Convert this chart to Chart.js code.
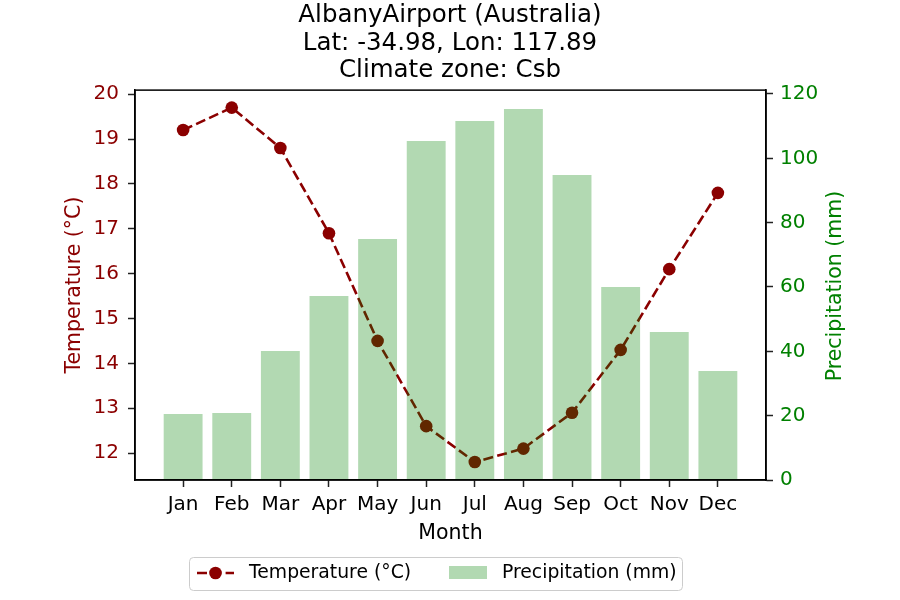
<!DOCTYPE html>
<html>
<head>
<meta charset="utf-8">
<script src="https://cdn.jsdelivr.net/npm/chart.js@4/dist/chart.umd.min.js"></script>
<style>
html,body{margin:0;padding:0;background:#fff;}
#wrap{width:900px;height:600px;}
</style>
</head>
<body>
<div id="wrap"><canvas id="c" width="900" height="600"></canvas></div>
<script>
const months = ['Jan','Feb','Mar','Apr','May','Jun','Jul','Aug','Sep','Oct','Nov','Dec'];
const temperature = [19.2, 19.7, 18.8, 16.9, 14.5, 12.6, 11.8, 12.1, 12.9, 14.3, 16.1, 17.8];
const precipitation = [20.5, 20.8, 40.1, 57.2, 74.9, 105.4, 111.6, 115.3, 94.8, 60.0, 46.0, 33.9];
const tempTicks = [12, 13, 14, 15, 16, 17, 18, 19, 20];
const precTicks = [0, 20, 40, 60, 80, 100, 120];
const titleLines = ['AlbanyAirport (Australia)', 'Lat: -34.98, Lon: 117.89', 'Climate zone: Csb'];

const FONT = "'DejaVu Sans', sans-serif";
const TEMP_COLOR = '#8b0000';
const PREC_COLOR = 'green';
const BAR_COLOR = 'rgba(0,128,0,0.3)';
const TICK_SIZE = 20;
const LABEL_SIZE = 20.5;

const framePlugin = {
  id: 'frame',
  afterDatasetsDraw(chart) {
    const {ctx, chartArea: a} = chart;
    ctx.save();
    ctx.strokeStyle = '#000';
    ctx.lineWidth = 1.5;
    ctx.strokeRect(a.left, a.top, a.right - a.left, a.bottom - a.top);
    ctx.restore();
  }
};

const rightTitlePlugin = {
  id: 'rightTitle',
  afterDraw(chart) {
    const {ctx, chartArea: a} = chart;
    ctx.save();
    ctx.translate(836, (a.top + a.bottom) / 2 + 1);
    ctx.rotate(-Math.PI / 2);
    ctx.fillStyle = PREC_COLOR;
    ctx.font = LABEL_SIZE + 'px ' + FONT;
    ctx.textAlign = 'center';
    ctx.textBaseline = 'middle';
    ctx.fillText('Precipitation (mm)', 0, 0);
    ctx.restore();
  }
};

const legendPlugin = {
  id: 'customLegend',
  afterDraw(chart) {
    const ctx = chart.ctx;
    ctx.save();
    const bx = 189.5, by = 557.5, bw = 493, bh = 33, r = 4;
    ctx.beginPath();
    ctx.moveTo(bx + r, by);
    ctx.arcTo(bx + bw, by, bx + bw, by + bh, r);
    ctx.arcTo(bx + bw, by + bh, bx, by + bh, r);
    ctx.arcTo(bx, by + bh, bx, by, r);
    ctx.arcTo(bx, by, bx + bw, by, r);
    ctx.closePath();
    ctx.fillStyle = 'rgba(255,255,255,0.8)';
    ctx.fill();
    ctx.strokeStyle = '#cccccc';
    ctx.lineWidth = 1;
    ctx.stroke();
    const cy = 573;
    ctx.strokeStyle = TEMP_COLOR;
    ctx.lineWidth = 2.6;
    ctx.setLineDash([10, 4.3]);
    ctx.beginPath();
    ctx.moveTo(197, cy);
    ctx.lineTo(234, cy);
    ctx.stroke();
    ctx.setLineDash([]);
    ctx.fillStyle = TEMP_COLOR;
    ctx.beginPath();
    ctx.arc(215.5, cy, 6.3, 0, Math.PI * 2);
    ctx.fill();
    ctx.fillStyle = BAR_COLOR;
    ctx.fillRect(449, 566, 38, 13);
    ctx.fillStyle = '#000';
    ctx.font = '18.8px ' + FONT;
    ctx.textBaseline = 'middle';
    ctx.textAlign = 'left';
    ctx.fillText('Temperature (°C)', 249, cy);
    ctx.fillText('Precipitation (mm)', 502, cy);
    ctx.restore();
  }
};

const ctx = document.getElementById('c').getContext('2d');
new Chart(ctx, {
  type: 'bar',
  data: {
    datasets: [
      {
        type: 'line',
        label: 'Temperature (°C)',
        data: temperature.map((v, i) => ({x: i, y: v})),
        yAxisID: 'y',
        xAxisID: 'x',
        borderColor: TEMP_COLOR,
        backgroundColor: TEMP_COLOR,
        borderWidth: 2.6,
        borderDash: [10, 4.3],
        pointRadius: 6.3,
        pointBorderWidth: 0,
        pointBackgroundColor: TEMP_COLOR,
        tension: 0,
        fill: false,
        order: 2
      },
      {
        type: 'bar',
        label: 'Precipitation (mm)',
        data: precipitation.map((v, i) => ({x: i, y: v})),
        yAxisID: 'y1',
        xAxisID: 'x',
        backgroundColor: BAR_COLOR,
        borderWidth: 0,
        barPercentage: 0.8,
        categoryPercentage: 1.0,
        order: 1
      }
    ]
  },
  options: {
    responsive: false,
    animation: false,
    events: [],
    layout: {padding: {left: 0, right: 0, top: 0, bottom: 50}},
    plugins: {
      legend: {display: false},
      tooltip: {enabled: false},
      title: {
        display: true,
        text: titleLines,
        color: '#000',
        font: {family: FONT, size: 24.5, weight: 'normal', lineHeight: 1.12},
        padding: {top: 2, bottom: 5.8}
      }
    },
    scales: {
      x: {
        type: 'linear',
        position: 'bottom',
        offset: false,
        min: -0.99,
        max: 11.99,
        afterBuildTicks: (s) => { s.ticks = months.map((m, i) => ({value: i})); },
        afterFit: (s) => { s.height = 70; },
        ticks: {
          color: '#000',
          font: {family: FONT, size: TICK_SIZE},
          padding: 6,
          maxRotation: 0,
          minRotation: 0,
          autoSkip: false,
          callback: (v) => months[v]
        },
        grid: {offset: false, drawOnChartArea: false, drawTicks: true, tickLength: 7, tickColor: '#222', tickWidth: 1.5},
        border: {display: true, color: '#000', width: 1.5},
        title: {
          display: true,
          text: 'Month',
          color: '#000',
          font: {family: FONT, size: LABEL_SIZE, lineHeight: 1.2},
          padding: {top: 0, bottom: 4}
        }
      },
      y: {
        type: 'linear',
        position: 'left',
        min: 11.40,
        max: 20.09,
        afterBuildTicks: (s) => { s.ticks = tempTicks.map(v => ({value: v})); },
        afterFit: (s) => { s.width = 135; },
        ticks: {color: TEMP_COLOR, font: {family: FONT, size: TICK_SIZE}, padding: 9},
        grid: {drawOnChartArea: false, drawTicks: true, tickLength: 7, tickColor: '#222', tickWidth: 1.5},
        border: {display: true, color: '#000', width: 1.5},
        title: {
          display: true,
          text: 'Temperature (°C)',
          color: TEMP_COLOR,
          font: {family: FONT, size: LABEL_SIZE, lineHeight: 1.2},
          padding: {top: 62.7, bottom: 0}
        }
      },
      y1: {
        type: 'linear',
        position: 'right',
        min: 0,
        max: 121.2,
        afterBuildTicks: (s) => { s.ticks = precTicks.map(v => ({value: v})); },
        afterFit: (s) => { s.width = 134; },
        ticks: {color: PREC_COLOR, font: {family: FONT, size: TICK_SIZE}, padding: 7},
        grid: {drawOnChartArea: false, drawTicks: true, tickLength: 7, tickColor: '#222', tickWidth: 1.5},
        border: {display: true, color: '#000', width: 1.5},
        title: {display: false}
      }
    }
  },
  plugins: [framePlugin, rightTitlePlugin, legendPlugin]
});
</script>
</body>
</html>
